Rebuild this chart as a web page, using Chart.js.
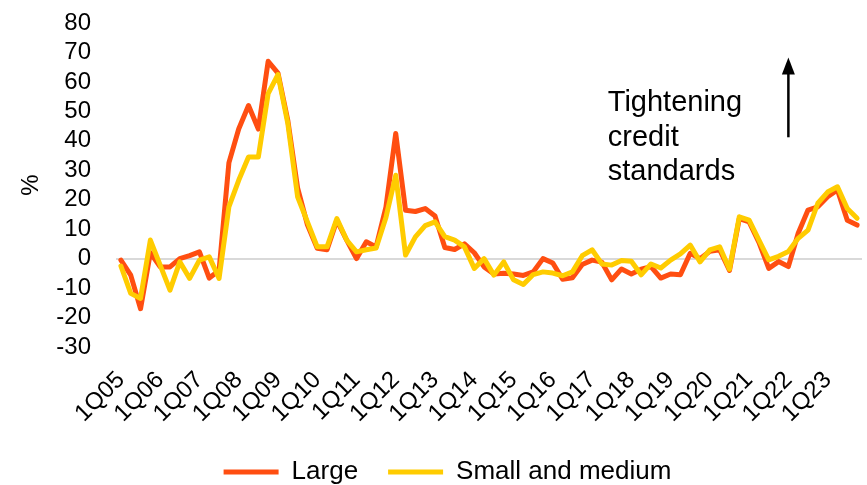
<!DOCTYPE html>
<html>
<head>
<meta charset="utf-8">
<script src="https://cdn.jsdelivr.net/npm/chart.js@4"></script>
<style>
  html, body { margin: 0; padding: 0; background: #fff; }
  #wrap { width: 867px; height: 485px; }
</style>
</head>
<body>
<div id="wrap"><canvas id="chart" width="867" height="485"></canvas></div>
<script>
// quarters 1Q05 .. 4Q23
const quarters = [
  '1Q05','2Q05','3Q05','4Q05','1Q06','2Q06','3Q06','4Q06','1Q07','2Q07','3Q07','4Q07',
  '1Q08','2Q08','3Q08','4Q08','1Q09','2Q09','3Q09','4Q09','1Q10','2Q10','3Q10','4Q10',
  '1Q11','2Q11','3Q11','4Q11','1Q12','2Q12','3Q12','4Q12','1Q13','2Q13','3Q13','4Q13',
  '1Q14','2Q14','3Q14','4Q14','1Q15','2Q15','3Q15','4Q15','1Q16','2Q16','3Q16','4Q16',
  '1Q17','2Q17','3Q17','4Q17','1Q18','2Q18','3Q18','4Q18','1Q19','2Q19','3Q19','4Q19',
  '1Q20','2Q20','3Q20','4Q20','1Q21','2Q21','3Q21','4Q21','1Q22','2Q22','3Q22','4Q22',
  '1Q23','2Q23','3Q23','4Q23'
];

const large = [
  -0.5, -5.6, -17, 2, -2.8, -2.8, 0, 1, 2.3, -6.6, -4, 32.5,
  44, 52, 44, 67, 63, 47, 24, 11.5, 3.5, 3, 13, 6.3,
  0, 5.7, 4, 17.5, 42.5, 16.4, 16, 17, 14.5, 3.8, 3.1, 5,
  2, -2.8, -5.2, -5, -5.2, -5.7, -4.5, 0, -1.5, -7, -6.5, -2,
  -0.5, -1.2, -7.2, -3.5, -5.2, -3.6, -2.7, -6.6, -5.2, -5.5, 1.8, 0,
  2.5, 3, -4, 13.6, 12.5, 5.5, -3.3, -1, -2.7, 8.6, 16.5, 17.6,
  21, 23.3, 13, 11.4
];

const smallMedium = [
  -2.5, -11.8, -13.5, 6.3, -2.2, -10.7, -1.1, -6.7, -0.5, 0.6, -6.7, 17.6,
  26.6, 34.5, 34.5, 56, 62.5, 46, 21, 12.5, 4, 4, 13.6, 6.3,
  2.3, 3, 3.6, 14, 28.3, 1.2, 7.4, 11.2, 12.5, 7.5, 6.3, 4,
  -3.3, 0, -5.6, -1.1, -7.2, -8.8, -5.4, -4.5, -4.9, -5.8, -4.5, 1,
  3, -1.8, -2.2, -0.6, -0.9, -5.5, -1.8, -3.2, -0.5, 1.6, 4.6, -1.1,
  3, 4, -3.6, 14.2, 13.1, 6.3, -0.4, 0.8, 2.4, 6.9, 9.7, 18.8,
  22.6, 24.4, 17, 13.7
];

const yTicks = [-30, -20, -10, 0, 10, 20, 30, 40, 50, 60, 70, 80];
const noteLines = ['Tightening', 'credit', 'standards'];

const FONT = '"Liberation Sans", Arial, sans-serif';

// text + arrow in the upper right
const notePlugin = {
  id: 'note',
  afterDraw(chart) {
    const ctx = chart.ctx;
    const x = chart.scales.x;
    const y = chart.scales.y;
    ctx.save();
    ctx.fillStyle = '#000';
    ctx.font = '29px ' + FONT;
    ctx.textAlign = 'left';
    ctx.textBaseline = 'middle';
    const tx = x.getPixelForValue(49.6);
    const ty = [52.7, 40.8, 29.5];
    noteLines.forEach((t, i) => ctx.fillText(t, tx, y.getPixelForValue(ty[i])));

    const ax = x.getPixelForValue(68);
    const yBottom = y.getPixelForValue(41.2);
    const yTip = y.getPixelForValue(68.3);
    ctx.strokeStyle = '#000';
    ctx.lineWidth = 2.5;
    ctx.beginPath();
    ctx.moveTo(ax, yBottom);
    ctx.lineTo(ax, yTip + 14);
    ctx.stroke();
    ctx.beginPath();
    ctx.moveTo(ax, yTip);
    ctx.lineTo(ax - 6.5, yTip + 17);
    ctx.lineTo(ax + 6.5, yTip + 17);
    ctx.closePath();
    ctx.fill();
    ctx.restore();
  }
};

// legend sits at the very bottom; rotated x labels may run into the legend band
const layoutTweak = {
  id: 'layoutTweak',
  afterLayout(chart) {
    const lg = chart.legend;
    if (lg) {
      lg.top += 10;
      lg.bottom += 10;
      lg.left += 8;
      lg.right += 8;
    }
    chart.scales.x.bottom = chart.height;
  }
};

new Chart(document.getElementById('chart'), {
  type: 'line',
  data: {
    labels: quarters,
    datasets: [
      {
        label: 'Large',
        data: large,
        borderColor: '#FF4E11',
        backgroundColor: '#FF4E11',
        borderWidth: 5,
        pointRadius: 0,
        tension: 0,
        borderJoinStyle: 'round',
        borderCapStyle: 'round',
        order: 1
      },
      {
        label: 'Small and medium',
        data: smallMedium,
        borderColor: '#FFCC00',
        backgroundColor: '#FFCC00',
        borderWidth: 5,
        pointRadius: 0,
        tension: 0,
        borderJoinStyle: 'round',
        borderCapStyle: 'round',
        order: 0
      }
    ]
  },
  options: {
    responsive: false,
    animation: false,
    devicePixelRatio: 1,
    layout: { padding: { top: 23, left: 17, right: 5, bottom: 0 } },
    plugins: {
      legend: {
        position: 'bottom',
        labels: {
          font: { size: 26, family: FONT },
          color: '#000',
          usePointStyle: true,
          pointStyle: 'line',
          pointStyleWidth: 55,
          padding: 30,
          sort: (a, b) => a.datasetIndex - b.datasetIndex
        }
      },
      tooltip: { enabled: false }
    },
    scales: {
      x: {
        offset: true,
        grid: { display: false, drawTicks: false },
        border: { display: false },
        ticks: {
          autoSkip: false,
          minRotation: 45,
          maxRotation: 45,
          padding: 19,
          color: '#000',
          font: { size: 24, family: FONT },
          callback: (v, i) => (i % 4 === 0 ? quarters[i] : '')
        },
        afterFit: (s) => { s.height = 72; s.paddingLeft = 0; s.paddingRight = 0; }
      },
      y: {
        min: yTicks[0],
        max: yTicks[yTicks.length - 1],
        afterBuildTicks: (s) => { s.ticks = yTicks.map(v => ({ value: v })); },
        grid: {
          drawTicks: false,
          lineWidth: 2,
          color: (c) => (c.tick && c.tick.value === 0 ? '#d9d9d9' : 'rgba(0,0,0,0)')
        },
        border: { display: false },
        ticks: {
          autoSkip: false,
          padding: 25,
          color: '#000',
          font: { size: 24, family: FONT }
        },
        title: {
          display: true,
          text: '%',
          color: '#000',
          padding: 0,
          font: { size: 24, family: FONT }
        },
        afterFit: (s) => { s.width = 99; s.paddingTop = 0; s.paddingBottom = 0; }
      }
    }
  },
  plugins: [notePlugin, layoutTweak]
});
</script>
</body>
</html>
